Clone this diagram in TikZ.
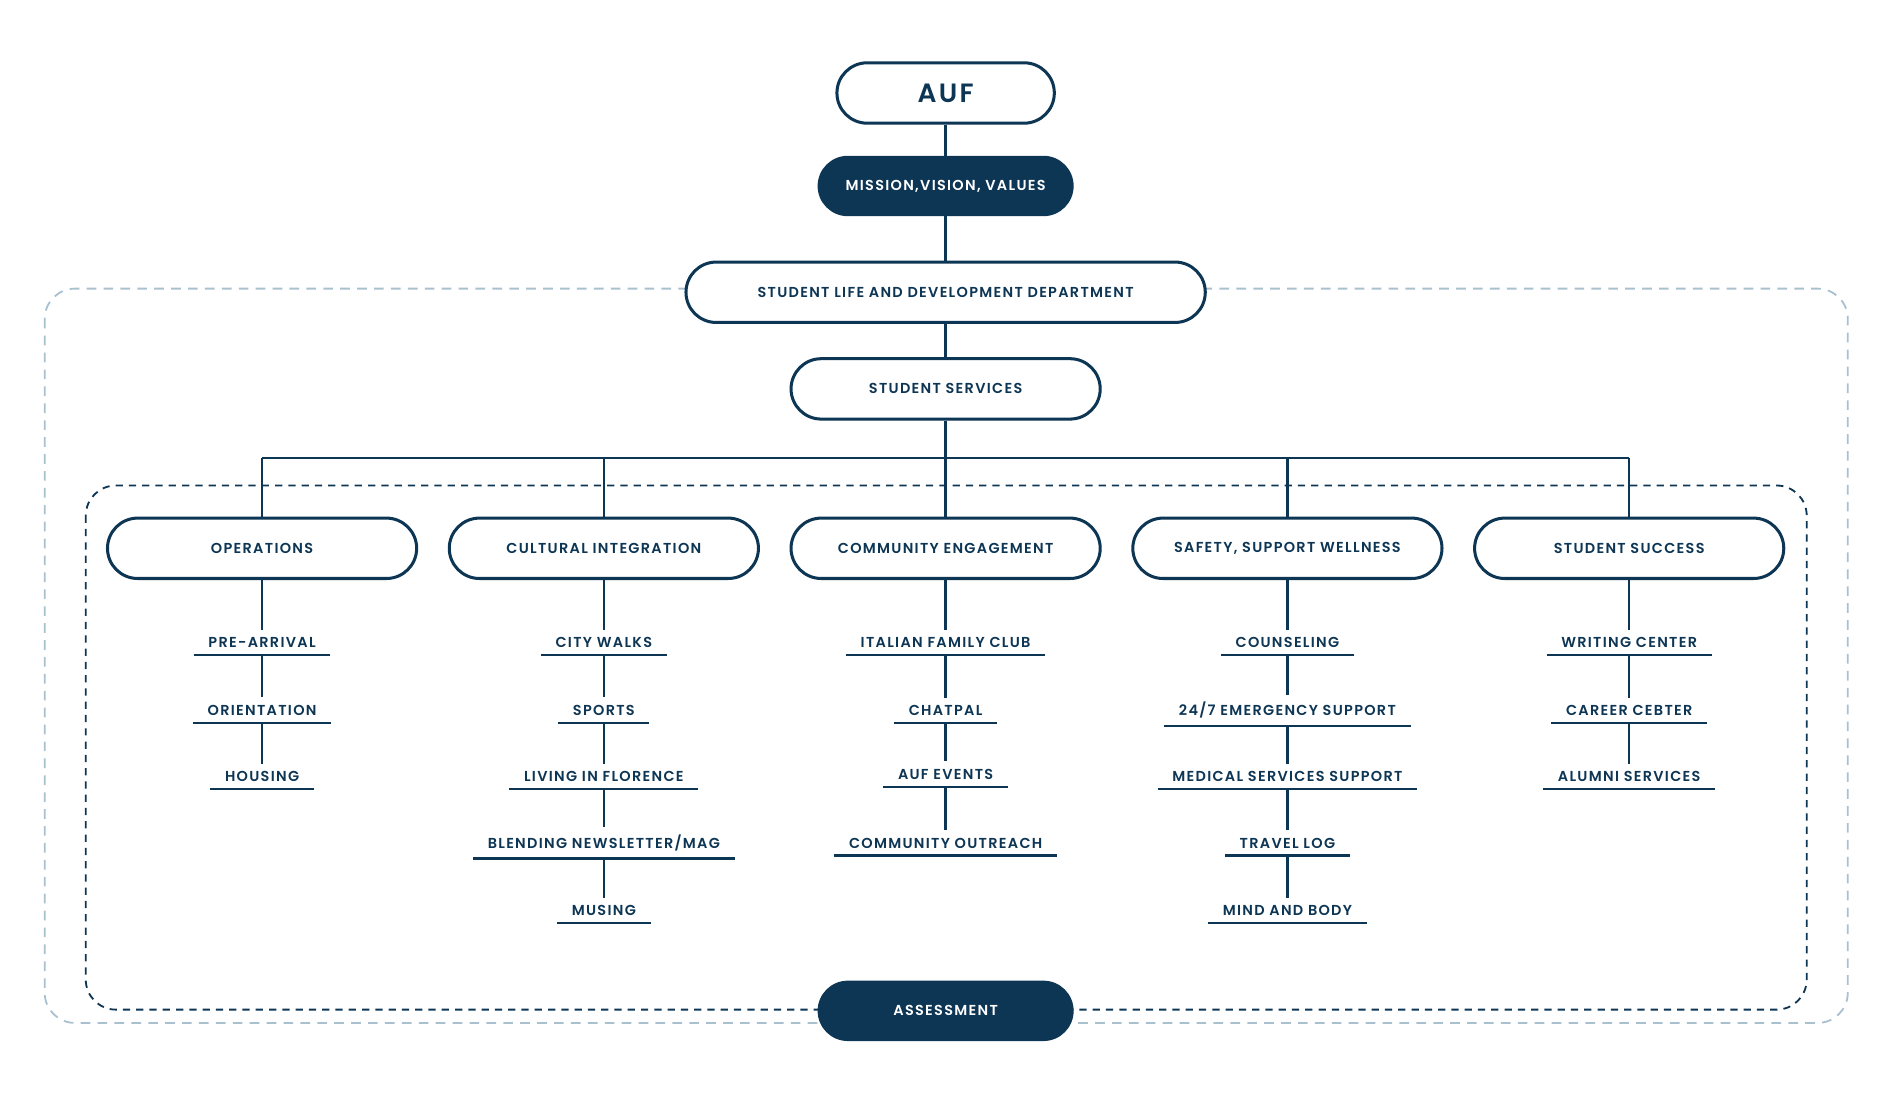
\documentclass[tikz,border=0pt]{standalone}
\usepackage{fontspec}
\setmainfont{Poppins}[LetterSpace=8]
\newfontfamily\boldf{Poppins SemiBold}[LetterSpace=9]
\usetikzlibrary{positioning}
\definecolor{navy}{HTML}{0D3554}
\definecolor{lblue}{HTML}{A9C0CF}
\begin{document}
\begin{tikzpicture}[x=1bp,y=-1bp,
  pill/.style={draw=navy,line width=2.5bp,rounded corners=25bp,minimum height=50bp,text=navy,font=\fontsize{12}{14}\selectfont\boldf,inner sep=0pt},
  dark/.style={fill=navy,rounded corners=25bp,minimum height=50bp,minimum width=212bp,text=white,font=\fontsize{12}{14}\selectfont\boldf,inner sep=0pt},
  item/.style={text=navy,font=\fontsize{12}{14}\selectfont\boldf,inner xsep=12bp,inner ysep=6bp,
     append after command={\pgfextra{\draw[navy,line width=2bp] (\tikzlastnode.south west)--(\tikzlastnode.south east);}}},
  ln/.style={navy,line width=2bp}]
\useasboundingbox (0,0) rectangle (1560,911);
\draw[lblue,line width=1.5bp,dash pattern=on 8bp off 6bp,rounded corners=25bp] (37,239) rectangle (1530,847);
\draw[navy,line width=1.5bp,dash pattern=on 6bp off 5bp,rounded corners=25bp] (71,402) rectangle (1496,836);
\node[pill,minimum width=180bp,font=\fontsize{22}{24}\selectfont\boldf] (auf) at (783,77) {AUF};
\node[dark] (mis) at (783,154) {MISSION,VISION, VALUES};
\node[pill,fill=white,minimum width=430bp] (sldd) at (783,242) {STUDENT LIFE AND DEVELOPMENT DEPARTMENT};
\node[pill,minimum width=256bp] (ss) at (783,322) {STUDENT SERVICES};
\node[dark] (ass) at (783,837) {ASSESSMENT};
\draw[ln] (auf)--(mis); \draw[ln] (mis)--(sldd); \draw[ln] (sldd)--(ss);
\coordinate (bar) at (783,379);
\foreach \n/\x/\t in {op/217/OPERATIONS,ci/500/CULTURAL INTEGRATION,ce/783/COMMUNITY ENGAGEMENT,sw/1066/{SAFETY, SUPPORT WELLNESS},su/1349/STUDENT SUCCESS}{
  \node[pill,fill=white,minimum width=256bp] (\n) at (\x,454) {\t};
  \coordinate (\n b) at (\x,379);
}
\draw[ln] (ss.south)--(bar);
\draw[ln] (opb)--(sub);
\foreach \n in {op,ci,ce,sw,su}{\draw[ln] (\n b)--(\n.north);}
% operations
\node[item] (o1) at (217,532) {PRE-ARRIVAL};
\node[item] (o2) at (217,588) {ORIENTATION};
\node[item] (o3) at (217,643) {HOUSING};
\draw[ln] (op)--(o1.north); \draw[ln] (o1.south)--(o2.north); \draw[ln] (o2.south)--(o3.north);
% cultural
\node[item] (c1) at (500,532) {CITY WALKS};
\node[item] (c2) at (500,588) {SPORTS};
\node[item] (c3) at (500,643) {LIVING IN FLORENCE};
\node[item] (c4) at (500,698) {BLENDING NEWSLETTER/MAG};
\node[item] (c5) at (500,754) {MUSING};
\draw[ln] (ci)--(c1.north);
\foreach \a/\b in {c1/c2,c2/c3,c3/c4,c4/c5}{\draw[ln] (\a.south)--(\b.north);}
% community
\node[item] (e1) at (783,532) {ITALIAN FAMILY CLUB};
\node[item] (e2) at (783,588) {CHATPAL};
\node[item] (e3) at (783,641) {AUF EVENTS};
\node[item] (e4) at (783,698) {COMMUNITY OUTREACH};
\draw[ln] (ce)--(e1.north);
\foreach \a/\b in {e1/e2,e2/e3,e3/e4}{\draw[ln] (\a.south)--(\b.north);}
% safety
\node[item] (s1) at (1066,532) {COUNSELING};
\node[item] (s2) at (1066,588) {24/7 EMERGENCY SUPPORT};
\node[item] (s3) at (1066,643) {MEDICAL SERVICES SUPPORT};
\node[item] (s4) at (1066,698) {TRAVEL LOG};
\node[item] (s5) at (1066,754) {MIND AND BODY};
\draw[ln] (sw)--(s1.north);
\foreach \a/\b in {s1/s2,s2/s3,s3/s4,s4/s5}{\draw[ln] (\a.south)--(\b.north);}
% success
\node[item] (u1) at (1349,532) {WRITING CENTER};
\node[item] (u2) at (1349,588) {CAREER CEBTER};
\node[item] (u3) at (1349,643) {ALUMNI SERVICES};
\draw[ln] (su)--(u1.north); \draw[ln] (u1.south)--(u2.north); \draw[ln] (u2.south)--(u3.north);
\end{tikzpicture}
\end{document}
